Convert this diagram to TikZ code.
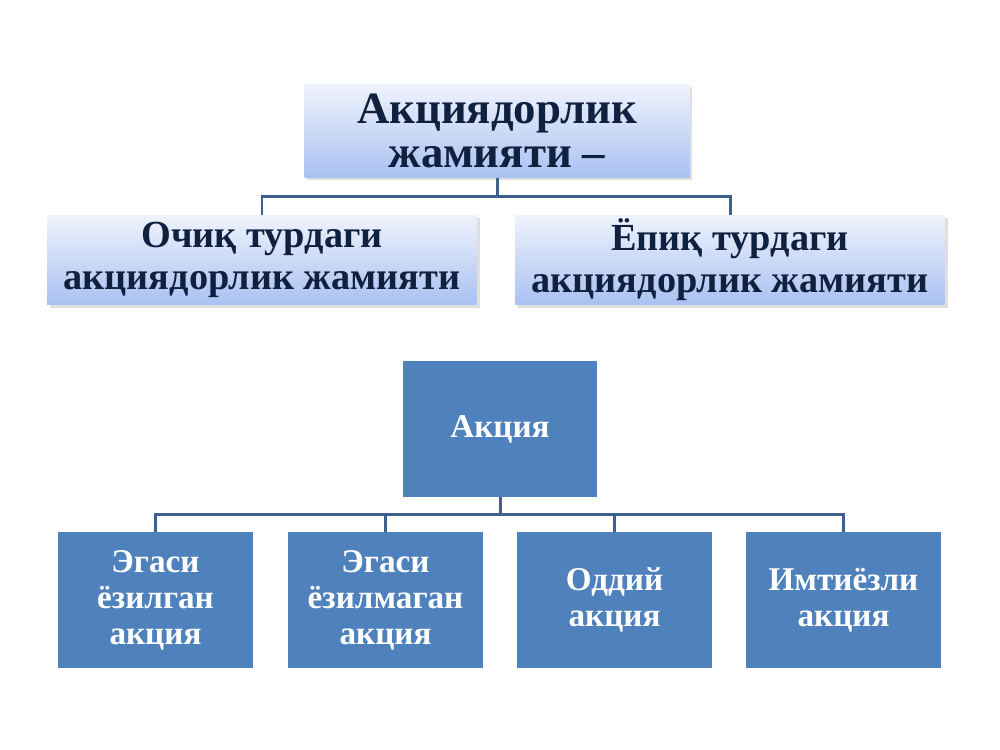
\documentclass[tikz,border=0pt]{standalone}
\usepackage{fontspec}
\setmainfont{Liberation Serif}
\usepackage{xcolor}
\usetikzlibrary{calc,shadows}
\definecolor{topfill}{HTML}{EFF3FC}
\definecolor{botfill}{HTML}{A9C1F2}
\definecolor{navy}{HTML}{10213F}
\definecolor{steel}{HTML}{4F81BD}
\definecolor{linkblue}{HTML}{3E6290}
\tikzset{
  box_g/.style = {rectangle, align=center, inner sep=0pt, text=navy,
    top color=topfill, bottom color=botfill,
    drop shadow={opacity=0.25, shadow xshift=1.5pt, shadow yshift=-1.5pt}},% gradient box
  box_top/.style = {box_g, minimum width=7.7cm, minimum height=1.86cm,
    font=\fontsize{25.5}{25}\selectfont\bfseries},% root of the first chart
  box_sub/.style = {box_g, minimum width=8.6cm, minimum height=1.8cm,
    font=\fontsize{21.8}{23.9}\selectfont\bfseries},% its two kinds
  box_b/.style = {rectangle, align=center, inner sep=0pt, fill=steel, text=white,
    minimum width=3.9cm, minimum height=2.72cm,
    font=\fontsize{18.9}{20.5}\selectfont\bfseries},% plain blue box
  link/.style = {draw=linkblue, line width=1.7pt}
}

\begin{document}
\begin{tikzpicture}[x=0.02cm, y=-0.02cm]
\useasboundingbox (0,0) rectangle (1000,750);
% first chart
\node [box_top] (jam) at (497,131) {Акциядорлик\\жамияти –};
\node [box_sub] (ochiq) at (262,260) {Очиқ турдаги\\акциядорлик жамияти};
\node [box_sub] (yopiq) at (730,260) {Ёпиқ турдаги\\акциядорлик жамияти};
\draw [link] (jam.south) |- ($(jam.south)!.5!(ochiq.north)$) -| (ochiq.north);
\draw [link] (jam.south) |- ($(jam.south)!.5!(yopiq.north)$) -| (yopiq.north);
% second chart
\node [box_b] (akc) at (500,429) {Акция};
\node [box_b] (eg1) at (155.5,600) {Эгаси\\ёзилган\\акция};
\node [box_b] (eg2) at (385.5,600) {Эгаси\\ёзилмаган\\акция};
\node [box_b] (odd) at (614.5,600) {Оддий\\акция};
\node [box_b] (imt) at (843.5,600) {Имтиёзли\\акция};
\foreach \c in {eg1,eg2,odd,imt}
  \draw [link] (akc.south) |- ($(akc.south)!.5!(\c.north)$) -| (\c.north);
\end{tikzpicture}
\end{document}
